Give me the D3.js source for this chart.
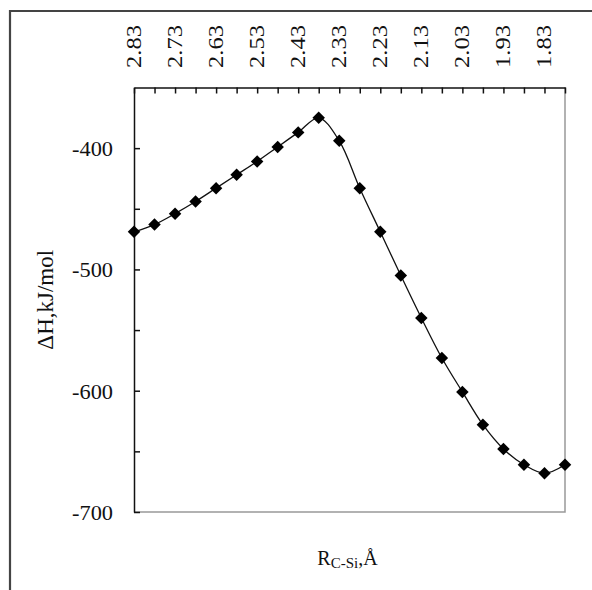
<!DOCTYPE html>
<html>
<head>
<meta charset="utf-8">
<script src="https://cdn.jsdelivr.net/npm/d3@7"></script>
<style>
  html, body { margin: 0; padding: 0; background: #fff; }
  svg { display: block; }
  text { font-family: "Liberation Serif", "Times New Roman", serif; fill: #111; }
</style>
</head>
<body>
<script>
// ---- data ----
const rCSi = [2.83, 2.78, 2.73, 2.68, 2.63, 2.58, 2.53, 2.48, 2.43, 2.38, 2.33,
              2.28, 2.23, 2.18, 2.13, 2.08, 2.03, 1.98, 1.93, 1.88, 1.83, 1.78];
const dH = [-469, -463, -454, -444, -433, -422, -411, -399, -387, -375, -394,
            -433, -469, -505, -540, -573, -601, -628, -648, -661, -668, -661];
const xTickLabels = ["2.83", "2.73", "2.63", "2.53", "2.43", "2.33", "2.23", "2.13", "2.03", "1.93", "1.83"];
const yMajorTicks = [-700, -600, -500, -400];
const yMinorTicks = [-650, -550, -450];

const W = 592, H = 590;
const plot = { left: 134, right: 565, top: 87.5, bottom: 512 };

const svg = d3.select("body").append("svg").attr("width", W).attr("height", H);

// outer frame
svg.append("path")
  .attr("d", `M10,${H + 5} L10,11 L${W + 5},11`)
  .attr("fill", "none").attr("stroke", "#444").attr("stroke-width", 2.2);

const x = d3.scaleLinear().domain([2.83, 1.78]).range([plot.left, plot.right]);
const y = d3.scaleLinear().domain([-700, -350]).range([plot.bottom, plot.top]);

// right & bottom plot borders (grey)
svg.append("path")
  .attr("d", `M${plot.left},${plot.bottom} L${plot.right},${plot.bottom} L${plot.right},${plot.top}`)
  .attr("fill", "none").attr("stroke", "#999").attr("stroke-width", 1.5);

// top axis (inward ticks)
const topAxis = d3.axisTop(x)
  .tickValues(rCSi)
  .tickSize(-6)
  .tickSizeOuter(0)
  .tickFormat("");
const gTop = svg.append("g").attr("transform", `translate(0,${plot.top})`).call(topAxis);
gTop.select(".domain").attr("stroke", "#111").attr("stroke-width", 1.5);
gTop.selectAll(".tick line").attr("stroke", "#111").attr("stroke-width", 1.5);

// top labels (rotated)
svg.append("g").selectAll("text")
  .data(xTickLabels)
  .join("text")
  .attr("transform", d => `translate(${x(+d) + 7},68) rotate(-90)`)
  .attr("text-anchor", "start")
  .attr("font-size", 22)
  .attr("textLength", 43)
  .attr("lengthAdjust", "spacingAndGlyphs")
  .text(d => d);

// left axis
const leftAxis = d3.axisLeft(y)
  .tickValues(yMajorTicks.concat(yMinorTicks))
  .tickSize(-6)
  .tickSizeOuter(0)
  .tickFormat("");
const gLeft = svg.append("g").attr("transform", `translate(${plot.left},0)`).call(leftAxis);
gLeft.select(".domain").attr("stroke", "#111").attr("stroke-width", 1.5);
gLeft.selectAll(".tick line").attr("stroke", "#111").attr("stroke-width", 1.5);

svg.append("g").selectAll("text")
  .data(yMajorTicks)
  .join("text")
  .attr("x", 113)
  .attr("y", d => y(d) + 8)
  .attr("text-anchor", "end")
  .attr("font-size", 22)
  .attr("textLength", 41)
  .attr("lengthAdjust", "spacingAndGlyphs")
  .text(d => d);

// y title
svg.append("text")
  .attr("transform", `translate(53,${(plot.top + plot.bottom) / 2}) rotate(-90)`)
  .attr("text-anchor", "middle")
  .attr("font-size", 23)
  .text("ΔH,kJ/mol");

// x title
const xt = svg.append("text")
  .attr("x", (plot.left + plot.right) / 2 - 2)
  .attr("y", 565)
  .attr("text-anchor", "middle")
  .attr("font-size", 20);
xt.append("tspan").text("R");
xt.append("tspan").attr("font-size", 15).attr("dy", 3).text("C-Si");
xt.append("tspan").attr("dy", -3).text(",Å");

// line
const pts = rCSi.map((r, i) => [r, dH[i]]);
const line = d3.line()
  .x(d => x(d[0]))
  .y(d => y(d[1]))
  .curve(d3.curveCatmullRom.alpha(0.5));
svg.append("path")
  .attr("d", line(pts))
  .attr("fill", "none")
  .attr("stroke", "#111")
  .attr("stroke-width", 1.3);

// markers
const sym = d3.symbol(d3.symbolSquare, 78);
svg.append("g").selectAll("path")
  .data(pts)
  .join("path")
  .attr("transform", d => `translate(${x(d[0])},${y(d[1])}) rotate(45)`)
  .attr("d", sym())
  .attr("fill", "#000");
</script>
</body>
</html>
